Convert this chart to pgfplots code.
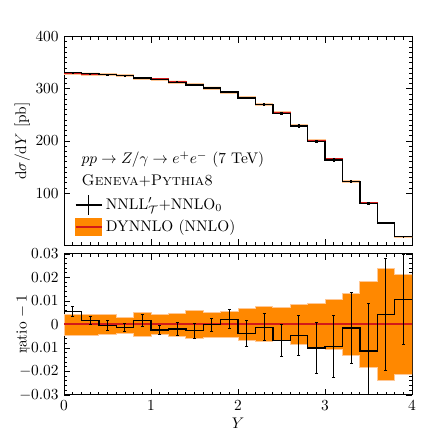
\documentclass[border=0pt]{standalone}
\usepackage{pgfplots}
\pgfplotsset{compat=1.18}
\usepgfplotslibrary{fillbetween}
\definecolor{band}{RGB}{255,136,0}
\definecolor{bandedge}{RGB}{255,200,150}
\definecolor{dyn}{RGB}{210,25,25}
\begin{document}
\begin{tikzpicture}
\pgfplotsset{
  every axis/.append style={
    scale only axis, width=226pt, xmin=0, xmax=4,
    tick align=inside, xtick pos=both, ytick pos=both,
    major tick length=4pt, minor tick length=2pt,
    axis line style={line width=0.6pt},
    every tick/.style={black, line width=0.5pt},
  }
}
% ---------------- top panel ----------------
\begin{axis}[name=top, at={(41.6pt,262.6pt)}, anchor=north west,
  height=135.5pt, ymin=0, ymax=400,
  ytick={100,200,300,400}, minor y tick num=9,
  xtick={0,1,2,3,4}, minor x tick num=9, xticklabels={},
  ylabel={$\mathrm{d}\sigma/\mathrm{d}Y$ [pb]},
  ylabel style={at={(axis description cs:-0.12,0.5)}, anchor=center},
  legend style={at={(rel axis cs:0.025,0.03)}, anchor=south west, draw=none, fill=none,
    row sep=1pt, inner sep=1pt},
  legend cell align=left,
]
\addplot[const plot, draw=none, name path=tu, forget plot] coordinates {
(0.0,331.2)(0.2,330.4)(0.4,329.1)(0.6,327.4)(0.8,322.5)(1.0,320.7)(1.2,315.1)(1.4,309.8)(1.6,303.6)(1.8,295.4)
(2.0,285.6)(2.2,272.3)(2.4,256.0)(2.6,231.6)(2.8,202.5)(3.0,166.8)(3.2,123.8)(3.4,82.9)(3.6,43.5)(3.8,16.7)(4.0,16.7)};
\addplot[const plot, draw=none, name path=tl, forget plot] coordinates {
(0.0,327.2)(0.2,326.4)(0.4,325.1)(0.6,323.4)(0.8,318.5)(1.0,316.7)(1.2,311.1)(1.4,305.8)(1.6,299.6)(1.8,291.4)
(2.0,281.6)(2.2,268.3)(2.4,252.2)(2.6,228.0)(2.8,198.9)(3.0,163.4)(3.2,120.6)(3.4,79.9)(3.6,41.5)(3.8,15.9)(4.0,15.9)};
\addplot[band, draw=bandedge, line width=0.5pt, forget plot] fill between[of=tu and tl];
\addplot[const plot, dyn, line width=0.9pt, forget plot] coordinates {
(0.0,329.2)(0.2,328.4)(0.4,327.1)(0.6,325.4)(0.8,320.5)(1.0,318.7)(1.2,313.1)(1.4,307.8)(1.6,301.6)(1.8,293.4)
(2.0,283.6)(2.2,270.3)(2.4,254.1)(2.6,229.8)(2.8,200.7)(3.0,165.1)(3.2,122.2)(3.4,81.4)(3.6,42.5)(3.8,16.3)(4.0,16.3)};
\addplot[const plot, black, line width=0.9pt, forget plot] coordinates {
(0.0,331)(0.2,329)(0.4,327)(0.6,325)(0.8,321)(1.0,318)(1.2,312.5)(1.4,307)(1.6,301.6)(1.8,294)
(2.0,282.5)(2.2,270)(2.4,252.4)(2.6,228.8)(2.8,198.7)(3.0,163.6)(3.2,122)(3.4,80.5)(3.6,42.7)(3.8,16.5)(4.0,16.5)};
\addplot[draw=none, mark=none, black, forget plot,
  error bars/.cd, y dir=both, y explicit, error bar style={line width=0.9pt},
  error mark options={rotate=90, mark size=0.8pt, line width=0.6pt}] coordinates {
(0.1,331)+-(0,0.8)(0.3,329)+-(0,0.6)(0.5,327)+-(0,0.7)(0.7,325)+-(0,0.6)(0.9,321)+-(0,0.8)
(1.1,318)+-(0,0.7)(1.3,312.5)+-(0,0.9)(1.5,307)+-(0,1.0)(1.7,301.6)+-(0,0.9)(1.9,294)+-(0,1.2)
(2.1,282.5)+-(0,1.6)(2.3,270)+-(0,1.5)(2.5,252.4)+-(0,1.7)(2.7,228.8)+-(0,2.0)(2.9,198.7)+-(0,2.1)
(3.1,163.6)+-(0,2.2)(3.3,122)+-(0,1.8)(3.5,80.5)+-(0,1.6)(3.7,42.7)+-(0,1.0)(3.9,16.5)+-(0,0.3)};
\addlegendimage{legend image code/.code={
  \draw[black, line width=0.9pt] (0pt,0pt) -- (17pt,0pt);
  \draw[black, line width=0.9pt] (8.5pt,-6.5pt) -- (8.5pt,6.5pt);}}
\addlegendentry{NNLL$'_{\mathcal{T}}$+NNLO$_0$}
\addlegendimage{legend image code/.code={
  \fill[band] (0pt,-5.5pt) rectangle (17pt,5.5pt);
  \draw[dyn, line width=1.3pt] (0pt,0pt) -- (17pt,0pt);}}
\addlegendentry{DYNNLO (NNLO)}
\node[anchor=west] at (rel axis cs:0.035,0.41) {$pp\to Z/\gamma\to e^+e^-$ (7 TeV)};
\node[anchor=west] at (rel axis cs:0.035,0.31) {\textsc{Geneva}+\textsc{Pythia8}};
\end{axis}
% ---------------- ratio panel ----------------
\begin{axis}[name=bot, at={(41.6pt,121.5pt)}, anchor=north west,
  height=91.6pt, ymin=-0.03, ymax=0.03,
  ytick={-0.03,-0.02,-0.01,0,0.01,0.02,0.03},
  yticklabels={$-0.03$,$-0.02$,$-0.01$,$0$,$0.01$,$0.02$,$0.03$},
  minor y tick num=4, scaled y ticks=false,
  xtick={0,1,2,3,4}, minor x tick num=9,
  xlabel={$Y$}, ylabel={ratio $-\,1$},
  ylabel style={at={(axis description cs:-0.12,0.5)}, anchor=center},
  xlabel style={yshift=2pt},
  clip=true,
]
\addplot[const plot, draw=none, name path=bu] coordinates {
(0.0,0.0044)(0.2,0.0044)(0.4,0.0041)(0.6,0.0031)(0.8,0.0051)(1.0,0.0042)(1.2,0.0047)(1.4,0.0058)(1.6,0.0051)(1.8,0.0055)
(2.0,0.0068)(2.2,0.0075)(2.4,0.0073)(2.6,0.0085)(2.8,0.0090)(3.0,0.0108)(3.2,0.0133)(3.4,0.0184)(3.6,0.0237)(3.8,0.0212)(4.0,0.0212)};
\addplot[const plot, draw=none, name path=bl] coordinates {
(0.0,-0.0045)(0.2,-0.0045)(0.4,-0.0041)(0.6,-0.0036)(0.8,-0.0051)(1.0,-0.0044)(1.2,-0.0052)(1.4,-0.0061)(1.6,-0.0055)(1.8,-0.0056)
(2.0,-0.0067)(2.2,-0.0073)(2.4,-0.0069)(2.6,-0.0084)(2.8,-0.0100)(3.0,-0.0107)(3.2,-0.0133)(3.4,-0.0184)(3.6,-0.0237)(3.8,-0.0211)(4.0,-0.0211)};
\addplot[band, draw=bandedge, line width=0.5pt] fill between[of=bu and bl];
\addplot[const plot, dyn, line width=1.3pt] coordinates {
(0.0,0)(0.2,0)(0.4,0)(0.6,0)(0.8,0)(1.0,0)(1.2,0)(1.4,0)(1.6,0)(1.8,0)
(2.0,0)(2.2,0)(2.4,0)(2.6,0)(2.8,0)(3.0,0)(3.2,0)(3.4,0)(3.6,0)(3.8,0)(4.0,0)};
\addplot[const plot, black, line width=0.9pt] coordinates {
(0.0,0.0055)(0.2,0.0016)(0.4,-0.0005)(0.6,-0.0013)(0.8,0.0016)(1.0,-0.0024)(1.2,-0.0019)(1.4,-0.0027)(1.6,-0.0001)(1.8,0.0022)
(2.0,-0.0039)(2.2,-0.0012)(2.4,-0.0069)(2.6,-0.0047)(2.8,-0.0100)(3.0,-0.0093)(3.2,-0.0015)(3.4,-0.0113)(3.6,0.0043)(3.8,0.0106)(4.0,0.0106)};
\addplot[draw=none, mark=none, black,
  error bars/.cd, y dir=both, y explicit, error bar style={line width=0.6pt},
  error mark options={rotate=90, mark size=1pt, line width=0.6pt}] coordinates {
(0.1,0.0055)+-(0,0.0022)(0.3,0.0016)+-(0,0.0017)(0.5,-0.0005)+-(0,0.0021)(0.7,-0.0013)+-(0,0.0018)(0.9,0.0016)+-(0,0.0025)
(1.1,-0.0024)+-(0,0.0020)(1.3,-0.0019)+-(0,0.0028)(1.5,-0.0027)+-(0,0.0033)(1.7,-0.0001)+-(0,0.0028)(1.9,0.0022)+-(0,0.0040)
(2.1,-0.0039)+-(0,0.0056)(2.3,-0.0012)+-(0,0.0058)(2.5,-0.0069)+-(0,0.0068)(2.7,-0.0047)+-(0,0.0087)(2.9,-0.0100)+-(0,0.0108)
(3.1,-0.0093)+-(0,0.0133)(3.3,-0.0015)+-(0,0.0149)(3.5,-0.0113)+-(0,0.0202)(3.7,0.0043)+-(0,0.0237)(3.9,0.0106)+-(0,0.0190)};
\end{axis}
\path (0,0) (269.5pt,286.4pt);
\end{tikzpicture}
\end{document}
